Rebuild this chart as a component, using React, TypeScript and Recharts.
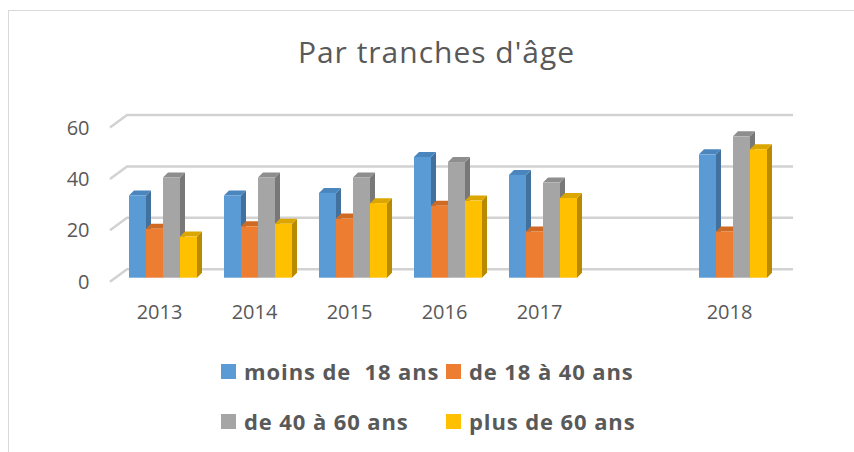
import { BarChart, Bar, XAxis, YAxis, CartesianGrid, Legend } from "recharts";

const years = ["2013", "2014", "2015", "2016", "2017", "", "2018"];
const moins18 = [32, 32, 33, 47, 40, null, 48];
const de18a40 = [19, 20, 23, 28, 18, null, 18];
const de40a60 = [39, 39, 39, 45, 37, null, 55];
const plus60 = [16, 21, 29, 30, 31, null, 50];
const yTicks = [0, 20, 40, 60];

const seriesNames = ["moins de  18 ans", "de 18 à 40 ans", "de 40 à 60 ans", "plus de 60 ans"];
const seriesKeys = ["a", "b", "c", "d"];
const fronts = ["#5b9bd5", "#ed7d31", "#a5a5a5", "#ffc000"];
const sides = ["#41719c", "#ae5a21", "#787878", "#b88a00"];
const tops = ["#4a85bd", "#cf6a24", "#8e8e8e", "#dca600"];

const data = years.map((year, i) => ({
  year,
  a: moins18[i],
  b: de18a40[i],
  c: de40a60[i],
  d: plus60[i],
}));

const FONT = "'Open Sans', Lato, sans-serif";
const TEXT = "#595959";
const D = 5; // depth of the 3d boxes
const LEGEND_H = 80;

function makeBox(s) {
  return (props) => {
    const { x, y, width, height } = props;
    if (height == null || isNaN(height) || height <= 0) return null;
    const r = x + width;
    const b = y + height;
    return (
      <g>
        <polygon
          points={`${r},${y} ${r + D},${y - D} ${r + D},${b - D} ${r},${b}`}
          fill={sides[s]}
        />
        <polygon
          points={`${x},${y} ${x + D},${y - D} ${r + D},${y - D} ${r},${y}`}
          fill={tops[s]}
        />
        <rect x={x} y={y} width={width} height={height} fill={fronts[s]} />
      </g>
    );
  };
}

// gridlines drawn on the back wall with a small slanted piece on the floor side
const gridLine = (p) => {
  const { x1, x2, y1 } = p;
  return (
    <path
      key={`g-${y1}`}
      d={`M${x1 - 6},${y1 + 4} L${x1 + 11},${y1 - 8.5} L${x2 + 12},${y1 - 8.5}`}
      fill="none"
      stroke="#d2d2d2"
      strokeWidth={2.5}
    />
  );
};

const XTick = ({ x, y, payload }) => (
  <text x={x - 4} y={y + 33} textAnchor="middle" fill={TEXT} fontSize={20} fontFamily={FONT}>
    {payload.value}
  </text>
);

const YTick = ({ x, y, payload }) => (
  <text x={x - 18.5} y={y + 11} textAnchor="end" fill={TEXT} fontSize={20} fontFamily={FONT}>
    {payload.value}
  </text>
);

const LegendBox = () => (
  <div style={{ position: "relative", width: 854, height: LEGEND_H }}>
    {seriesNames.map((name, i) => {
      const col = i % 2;
      const row = Math.floor(i / 2);
      return (
        <div
          key={name}
          style={{ position: "absolute", left: 221 + col * 225, top: 9 + row * 50, width: 15, height: 15, background: fronts[i] }}
        >
          <span
            style={{
              position: "absolute",
              left: 23,
              top: -4.2,
              fontFamily: FONT,
              fontWeight: 700,
              fontSize: 22,
              letterSpacing: 0.9,
              lineHeight: "22px",
              color: TEXT,
              whiteSpace: "pre",
            }}
          >
            {name}
          </span>
        </div>
      );
    })}
  </div>
);

export default function App() {
  return (
    <div style={{ position: "absolute", left: 0, top: 0, width: 854, height: 452, overflow: "hidden", background: "#fff" }}>
      <div
        style={{ position: "absolute", left: 8, top: 10, width: 900, height: 500, border: "1px solid #d9d9d9" }}
      />
      <div
        style={{
          position: "absolute",
          left: 0,
          top: 36.7,
          width: 873,
          textAlign: "center",
          fontFamily: FONT,
          fontSize: 30,
          letterSpacing: 1,
          lineHeight: "30px",
          color: TEXT,
        }}
      >
        Par tranches d'âge
      </div>
      <div style={{ position: "absolute", left: 0, top: 0 }}>
        <BarChart
          width={854}
          height={452}
          data={data}
          margin={{ top: 123.5, right: 73, bottom: 134.3 - LEGEND_H, left: 56 }}
          barCategoryGap={13}
          barGap={0}
        >
          <CartesianGrid vertical={false} horizontal={gridLine} />
          <XAxis dataKey="year" axisLine={false} tickLine={false} height={40} tick={<XTick />} interval={0} />
          <YAxis domain={[0, 60]} ticks={yTicks} axisLine={false} tickLine={false} width={60} tick={<YTick />} />
          <Legend
            content={<LegendBox />}
            wrapperStyle={{ position: "absolute", left: 0, top: 355, width: 854 }}
          />
          {seriesKeys.map((k, i) => (
            <Bar key={k} dataKey={k} name={seriesNames[i]} fill={fronts[i]} shape={makeBox(i)} isAnimationActive={false} />
          ))}
        </BarChart>
      </div>
    </div>
  );
}
